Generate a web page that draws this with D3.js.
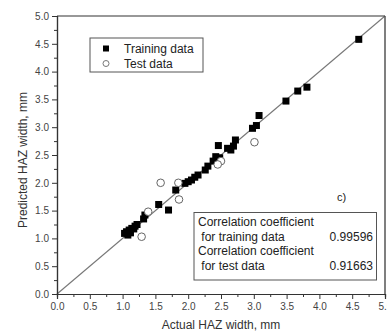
<!DOCTYPE html>
<html><head><meta charset="utf-8">
<script src="https://cdn.jsdelivr.net/npm/d3@7"></script>
<style>
html,body{margin:0;padding:0;background:#fff;}
svg text{font-family:"Liberation Sans",Arial,sans-serif;}
</style></head>
<body>
<svg id="c" width="387" height="333"></svg>
<script>
const trainX = [4.60,3.81,3.67,3.49,3.08,3.04,2.98,2.72,2.69,2.65,2.46,2.42,2.38,2.30,2.26,2.15,2.10,2.05,2.00,1.95,1.81,1.55,1.70,1.34,1.32,1.22,1.19,1.14,1.10,1.06,1.03,1.08,1.12,1.17,2.60,2.48];
const trainY = [4.58,3.72,3.65,3.47,3.21,3.03,2.98,2.77,2.66,2.59,2.67,2.47,2.39,2.30,2.23,2.14,2.10,2.05,2.02,1.99,1.87,1.61,1.51,1.42,1.35,1.25,1.22,1.18,1.15,1.12,1.09,1.06,1.10,1.17,2.62,2.45];
const testX = [3.01,2.50,2.45,1.85,1.58,1.86,1.39,1.29];
const testY = [2.73,2.39,2.33,2.00,2.00,1.70,1.48,1.03];
const majorTicks = [0.0,0.5,1.0,1.5,2.0,2.5,3.0,3.5,4.0,4.5,5.0];
const minorTicks = [0.25,0.75,1.25,1.75,2.25,2.75,3.25,3.75,4.25,4.75];
const legendLabels = ["Training data","Test data"];
const corrLines = [["Correlation coefficient",""],[" for training data","0.99596"],["Correlation coefficient",""],[" for test data","0.91663"]];
const panelLabel = "c)";

const svg = d3.select("#c");
const x = d3.scaleLinear().domain([0,5]).range([57,385]);
const y = d3.scaleLinear().domain([0,5]).range([294,16]);
const fmt = d3.format(".1f");

// diagonal line
svg.append("line").attr("x1",x(0)).attr("y1",y(0)).attr("x2",x(5)).attr("y2",y(5))
  .attr("stroke","#777").attr("stroke-width",1.1);

// axes
const xAxis = svg.append("g").attr("transform",`translate(0,${y(0)})`)
  .call(d3.axisBottom(x).tickValues(majorTicks).tickFormat(fmt).tickSize(5).tickPadding(4));
const xMinor = svg.append("g").attr("transform",`translate(0,${y(0)})`)
  .call(d3.axisBottom(x).tickValues(minorTicks).tickFormat("").tickSize(3));
const yAxis = svg.append("g").attr("transform",`translate(${x(0)},0)`)
  .call(d3.axisLeft(y).tickValues(majorTicks).tickFormat(fmt).tickSize(5).tickPadding(3));
const yMinor = svg.append("g").attr("transform",`translate(${x(0)},0)`)
  .call(d3.axisLeft(y).tickValues(minorTicks).tickFormat("").tickSize(3));
[xAxis,xMinor,yAxis,yMinor].forEach(g=>{
  g.select(".domain").attr("stroke","#333").attr("stroke-width",1.2);
  g.selectAll(".tick line").attr("stroke","#333").attr("stroke-width",1);
  g.selectAll(".tick text").attr("fill","#444").attr("font-size",10)
   .attr("font-family","'Liberation Sans',Arial,sans-serif");
});
// top & right frame
svg.append("line").attr("x1",x(0)).attr("x2",x(5)).attr("y1",y(5)).attr("y2",y(5)).attr("stroke","#333").attr("stroke-width",1.2);
svg.append("line").attr("x1",x(5)).attr("x2",x(5)).attr("y1",y(5)).attr("y2",y(0)).attr("stroke","#555").attr("stroke-width",1.5);

// axis titles
svg.append("text").attr("x",(x(0)+x(5))/2).attr("y",329).attr("text-anchor","middle")
  .attr("font-size",12).attr("fill","#333").text("Actual HAZ width, mm");
svg.append("text").attr("transform",`translate(27,160) rotate(-90)`).attr("text-anchor","middle")
  .attr("font-size",12).attr("fill","#333").text("Predicted HAZ width, mm");

// training squares
const sq = 7;
svg.append("g").selectAll("rect").data(trainX.map((v,i)=>[v,trainY[i]])).join("rect")
  .attr("x",d=>x(d[0])-sq/2).attr("y",d=>y(d[1])-sq/2).attr("width",sq).attr("height",sq)
  .attr("fill","#000");
// test circles
svg.append("g").selectAll("circle").data(testX.map((v,i)=>[v,testY[i]])).join("circle")
  .attr("cx",d=>x(d[0])).attr("cy",d=>y(d[1])).attr("r",3.8)
  .attr("fill","#fff").attr("stroke","#666").attr("stroke-width",1);

// legend
const lg = svg.append("g");
lg.append("rect").attr("x",90).attr("y",38).attr("width",113).attr("height",34)
  .attr("fill","#fff").attr("stroke","#555").attr("stroke-width",1);
lg.append("rect").attr("x",106-3).attr("y",48.5-3).attr("width",6).attr("height",6).attr("fill","#000");
lg.append("circle").attr("cx",106).attr("cy",63.5).attr("r",3).attr("fill","#fff").attr("stroke","#777");
legendLabels.forEach((t,i)=>{
  lg.append("text").attr("x",124).attr("y",52.5+i*15).attr("font-size",12).attr("fill","#222").text(t);
});

// panel label
svg.append("text").attr("x",337).attr("y",201).attr("font-size",11).attr("fill","#222").text(panelLabel);

// correlation box
const cb = svg.append("g");
cb.append("rect").attr("x",194).attr("y",212.5).attr("width",182.5).attr("height",67.5)
  .attr("fill","#fff").attr("stroke","#555").attr("stroke-width",1);
corrLines.forEach((r,i)=>{
  const yy = 226 + i*14.5;
  cb.append("text").attr("x",198).attr("y",yy).attr("font-size",12).attr("fill","#222")
    .attr("xml:space","preserve").style("white-space","pre").text(r[0]);
  if(r[1]) cb.append("text").attr("x",373).attr("y",yy).attr("text-anchor","end")
    .attr("font-size",12).attr("fill","#222").text(r[1]);
});
</script>
</body></html>
